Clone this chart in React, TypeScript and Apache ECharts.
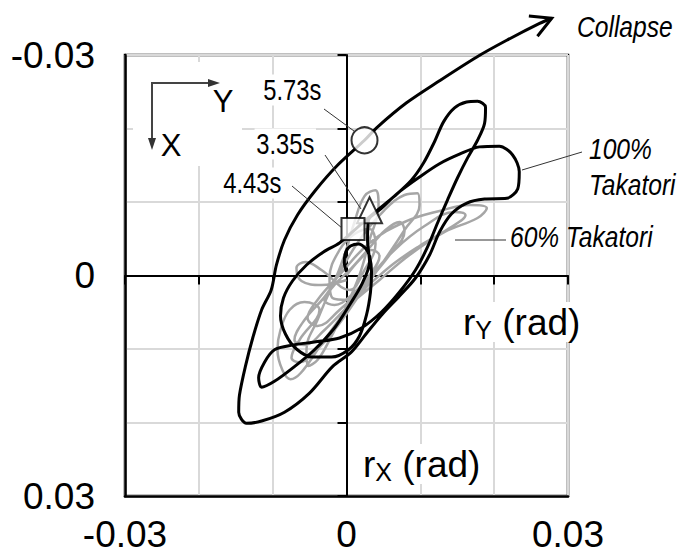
import React, { useEffect, useRef } from "react";
import * as echarts from "echarts";

const SANS = "'Liberation Sans', Arial, sans-serif";
const NARROW_SCALE = 0.82;

const axisMin = -0.03;
const axisMax = 0.03;
const axisStep = 0.01;
const shownTicks = [-0.03, 0, 0.03];
const tickText = ["-0.03", "0", "0.03"];

// 100% Takatori response, [rY, rX] in mrad
const takatori100: number[][] = [
  [0.0, -0.5], [-0.3, -1.8], [-0.1, -3.2], [0.54, -4.0], [1.63, -4.3], [2.57, -3.7], [3.12, -2.65],
  [3.39, -0.48], [3.25, 2.24], [2.71, 5.37], [1.76, 8.23], [0.27, 10.1], [-2.03, 11.1], [-4.6, 11.1],
  [-6.78, 10.0], [-8.27, 7.96], [-8.94, 5.51], [-8.54, 3.06], [-7.32, 0.75], [-5.42, -1.43], [-3.12, -3.2],
  [-0.95, -4.42], [0.81, -5.92], [2.3, -7.28], [4.2, -8.9], [6.5, -10.8], [8.81, -13.0], [10.43, -15.3],
  [11.92, -18.2], [13.14, -20.9], [14.63, -22.8], [16.26, -23.6], [17.75, -23.7], [18.83, -22.9], [18.7, -20.7],
  [17.75, -18.4], [16.4, -16.0], [15.04, -13.3], [13.69, -10.3], [12.33, -7.14], [10.98, -3.88], [9.35, -0.75],
  [7.18, 2.24], [4.74, 4.97], [2.03, 7.14], [-0.95, 8.5], [-4.34, 9.05], [-7.32, 9.46], [-9.76, 10.1],
  [-11.1, 11.8], [-11.9, 13.9], [-11.5, 15.2], [-9.76, 14.4], [-7.05, 12.4], [-4.34, 10.1], [-1.63, 7.14],
  [0.41, 4.01], [2.03, 1.29], [3.12, -1.84], [2.85, -4.83], [2.98, -7.55], [4.47, -8.91], [7.18, -11.4],
  [9.89, -13.4], [12.6, -15.2], [15.3, -16.5], [18.0, -17.5], [20.7, -17.6], [22.5, -16.4], [23.4, -14.1],
  [23.2, -11.8], [21.7, -10.5], [18.7, -10.4], [16.3, -9.86], [14.2, -8.37], [12.6, -5.92], [11.25, -2.79],
  [9.35, 0.34], [7.18, 2.79], [4.88, 5.24], [2.85, 7.69], [0.68, 10.4], [-1.9, 12.4], [-5.01, 16.0],
  [-8.4, 18.6], [-11.5, 19.8], [-13.55, 20.1], [-14.6, 18.6], [-14.5, 16.3], [-13.7, 12.4], [-12.7, 8.5],
  [-11.5, 4.69], [-10.2, 1.97], [-9.49, -1.43], [-8.4, -4.83], [-6.64, -8.23], [-4.2, -11.6], [-1.22, -15.0],
  [2.44, -18.4], [4.07, -20.1], [8.13, -23.5], [12.6, -26.5], [17.6, -29.7], [21.7, -32.0], [26.15, -34.3],
  [27.8, -35.0],
];

// 60% Takatori response, [rY, rX] in mrad
const takatori60: number[][] = [
  [0, 0], [1.76, -2.11], [3.39, -3.47], [4.47, -2.65], [3.12, -0.07], [0.68, 2.65], [-1.63, 4.01],
  [-2.98, 3.33], [-1.63, 1.29], [0.68, -1.02], [2.85, -3.47], [5.28, -6.19], [7.18, -7.28], [7.86, -6.05],
  [5.83, -2.79], [2.44, 1.29], [-0.95, 4.69], [-3.93, 6.87], [-5.28, 5.78], [-3.93, 3.33], [-0.95, -0.07],
  [3.12, -4.42], [7.86, -7.28], [12.6, -8.78], [16.7, -9.59], [19.0, -9.18], [17.75, -7.82], [13.3, -5.92],
  [8.54, -2.79], [4.47, 0.61], [0.41, 4.01], [-2.98, 7.41], [-5.69, 9.46], [-7.05, 8.78], [-5.69, 6.05],
  [-2.3, 1.97], [-0.27, -2.79], [1.08, -7.28], [2.44, -10.8], [3.93, -11.6], [4.34, -9.46], [3.12, -4.83],
  [1.76, -0.07], [-0.27, 4.69], [-2.3, 8.78], [-3.93, 11.5], [-5.15, 12.3], [-5.42, 10.1], [-3.93, 6.05],
  [-1.63, 0.88], [1.76, -4.83], [5.15, -8.91], [7.86, -10.95], [9.62, -11.2], [9.89, -9.59], [7.86, -6.19],
  [5.15, -2.11], [1.76, 2.65], [-1.63, 7.41], [-4.34, 10.4], [-6.37, 11.8], [-7.45, 11.2], [-6.37, 8.78],
  [-3.66, 4.69], [-5.69, 3.61], [-7.72, 4.69], [-8.94, 7.41], [-9.35, 10.1], [-8.67, 12.9], [-7.59, 14.1],
  [-6.23, 13.3], [-3.66, 9.73], [-0.27, 4.97], [3.12, 0.34], [6.5, -3.47], [10.57, -6.73], [14.63, -8.64],
  [16.12, -8.23], [13.96, -6.46], [9.89, -4.01], [6.5, -1.7], [3.12, 1.16], [0.41, 3.33], [-1.9, 3.06],
  [-2.3, 0.34], [-0.95, -3.47], [1.08, -5.65], [3.12, -6.33], [3.93, -4.29], [2.44, -0.75], [0.41, 1.97],
  [-3.39, -0.75], [-5.56, -1.84], [-6.78, -1.02], [-6.1, 0.75], [-3.39, 1.29], [0, 0.61],
];

// event markers, [rY, rX] in mrad
const eventTimes = ["3.35s", "4.43s", "5.73s"];
const eventPoints: number[][] = [[3.12, -8.87], [0.88, -6.33], [2.44, -18.4]];
const eventSymbols = ["triangle", "rect", "circle"];
const eventSizes: number[][] = [[25, 26], [23, 22], [26, 26]];

const toRad = (p: number[]) => [p[0] / 1000, p[1] / 1000];

function fmtTick(v: number) {
  const r = Math.round(v * 1000) / 1000;
  const i = shownTicks.indexOf(r);
  return i >= 0 ? tickText[i] : "";
}

export default function App() {
  const ref = useRef<HTMLDivElement>(null);
  useEffect(() => {
    if (!ref.current) return;
    const chart = echarts.init(ref.current, undefined, { renderer: "svg" });
    const black = takatori100.map(toRad);
    const gray = takatori60.map(toRad);
    const n = black.length;
    const arrowData = [[black[n - 2][0], black[n - 2][1], black[n - 1][0], black[n - 1][1]]];

    const baseAxis = {
      type: "value",
      min: axisMin,
      max: axisMax,
      interval: axisStep,
    };
    const labelFont = { fontFamily: SANS, fontSize: 37, color: "#000" };

    const text = (t: string, x: number, y: number, font: string, extra: any = {}) => ({
      type: "text",
      x,
      y,
      z: 100,
      scaleX: extra.narrow ? NARROW_SCALE : 1,
      style: {
        text: t,
        font,
        fill: "#000",
        align: extra.align || "left",
        textAlign: extra.align || "left",
        verticalAlign: "middle",
        textVerticalAlign: "middle",
        ...(extra.bg ? { backgroundColor: "#fff", padding: [1, 2] } : {}),
      },
    });
    const line = (x1: number, y1: number, x2: number, y2: number, w = 1, c = "#333") => ({
      type: "line",
      z: 100,
      shape: { x1, y1, x2, y2 },
      style: { stroke: c, lineWidth: w },
    });
    const sub = (s: string, x: number, y: number) => ({
      type: "text",
      x,
      y,
      z: 100,
      style: {
        text: `{m|r}{s|${s}}{m| (rad)}`,
        rich: {
          m: { fontSize: 37, fontFamily: SANS, fill: "#000", lineHeight: 40, verticalAlign: "middle" },
          s: { fontSize: 25, fontFamily: SANS, fill: "#000", lineHeight: 22, verticalAlign: "bottom" },
        },
        verticalAlign: "middle",
        textVerticalAlign: "middle",
        backgroundColor: "#fff",
        padding: [0, 2],
      },
    });

    chart.setOption({
      animation: false,
      grid: {
        left: 125,
        top: 55,
        width: 443,
        height: 441,
        show: true,
        borderColor: "#000",
        borderWidth: 2.5,
        backgroundColor: "transparent",
      },
      xAxis: [
        {
          ...baseAxis,
          position: "bottom",
          axisLine: { show: true, onZero: false, lineStyle: { color: "#000", width: 2.5 } },
          axisTick: { show: false },
          axisLabel: { ...labelFont, margin: 20, formatter: fmtTick },
          splitLine: { show: true, lineStyle: { color: "#d9d9d9", width: 2 } },
        },
        {
          ...baseAxis,
          position: "bottom",
          axisLine: { show: true, onZero: true, lineStyle: { color: "#000", width: 2 } },
          axisTick: { show: true, length: 9, lineStyle: { color: "#000", width: 2 } },
          axisLabel: { show: false },
          splitLine: { show: false },
        },
      ],
      yAxis: [
        {
          ...baseAxis,
          inverse: true,
          position: "left",
          axisLine: { show: true, onZero: false, lineStyle: { color: "#000", width: 2.5 } },
          axisTick: { show: false },
          axisLabel: { ...labelFont, margin: 30, formatter: fmtTick },
          splitLine: { show: true, lineStyle: { color: "#d9d9d9", width: 2 } },
        },
        {
          ...baseAxis,
          inverse: true,
          position: "left",
          axisLine: { show: true, onZero: true, lineStyle: { color: "#000", width: 2 } },
          axisTick: { show: true, length: 9, lineStyle: { color: "#000", width: 2 } },
          axisLabel: { show: false },
          splitLine: { show: false },
        },
      ],
      series: [
        {
          name: "60% Takatori",
          type: "line",
          data: gray,
          showSymbol: false,
          smooth: 0.4,
          lineStyle: { color: "#a6a6a6", width: 2.5 },
          z: 2,
        },
        {
          name: "100% Takatori",
          type: "line",
          data: black,
          showSymbol: false,
          smooth: 0.3,
          clip: false,
          lineStyle: { color: "#000", width: 3 },
          z: 3,
        },
        {
          type: "custom",
          clip: false,
          z: 4,
          data: arrowData,
          encode: { x: [0, 2], y: [1, 3] },
          renderItem: (params: any, api: any) => {
            const a = api.coord([api.value(0), api.value(1)]);
            const b = api.coord([api.value(2), api.value(3)]);
            const ang = Math.atan2(b[1] - a[1], b[0] - a[0]) + Math.PI;
            const L = 23;
            const spread = 0.5;
            const p1 = [b[0] + L * Math.cos(ang + spread), b[1] + L * Math.sin(ang + spread)];
            const p2 = [b[0] + L * Math.cos(ang - spread), b[1] + L * Math.sin(ang - spread)];
            return {
              type: "polyline",
              shape: { points: [p1, b, p2] },
              style: { stroke: "#000", lineWidth: 3, fill: "none" },
            };
          },
        },
        {
          type: "scatter",
          z: 5,
          data: eventPoints.map((p, i) => ({
            name: eventTimes[i],
            value: toRad(p),
            symbol: eventSymbols[i],
            symbolSize: eventSizes[i],
          })),
          itemStyle: { color: "#fff", borderColor: "#000", borderWidth: 2 },
        },
      ],
      graphic: [
        // compass
        { type: "rect", z: 90, shape: { x: 133, y: 62, width: 109, height: 104 }, style: { fill: "#fff" } },
        line(152, 83, 152, 142, 2, "#444"),
        line(151, 83, 212, 83, 2, "#444"),
        { type: "polygon", z: 100, shape: { points: [[148, 138], [156, 138], [152, 150]] }, style: { fill: "#333" } },
        { type: "polygon", z: 100, shape: { points: [[208, 79], [208, 87], [220, 83]] }, style: { fill: "#333" } },
        text("Y", 223, 101, `31px ${SANS}`, { align: "center" }),
        text("X", 171, 145, `31px ${SANS}`, { align: "center" }),
        // time labels
        text("5.73s", 323, 90, `29px ${SANS}`, { align: "right", bg: true, narrow: true }),
        text("3.35s", 316, 144, `29px ${SANS}`, { align: "right", bg: true, narrow: true }),
        text("4.43s", 283, 183, `29px ${SANS}`, { align: "right", bg: true, narrow: true }),
        line(324, 109, 354, 131),
        line(325, 155, 361, 209),
        line(292, 186, 342, 228),
        // annotations
        text("Collapse", 577, 27, `italic 30px ${SANS}`, { narrow: true }),
        text("100%", 589, 149, `italic 30px ${SANS}`, { narrow: true }),
        text("Takatori", 589, 185, `italic 30px ${SANS}`, { narrow: true }),
        line(522, 170, 582, 152),
        text("60% Takatori", 510, 237, `italic 30px ${SANS}`, { narrow: true }),
        line(455, 240, 506, 240),
        // axis names
        sub("Y", 461, 322),
        sub("X", 361, 464),
      ],
    });
    return () => chart.dispose();
  }, []);
  return (
    <div
      ref={ref}
      style={{ position: "fixed", left: 0, top: 0, width: 680, height: 556, background: "#fff" }}
    />
  );
}
